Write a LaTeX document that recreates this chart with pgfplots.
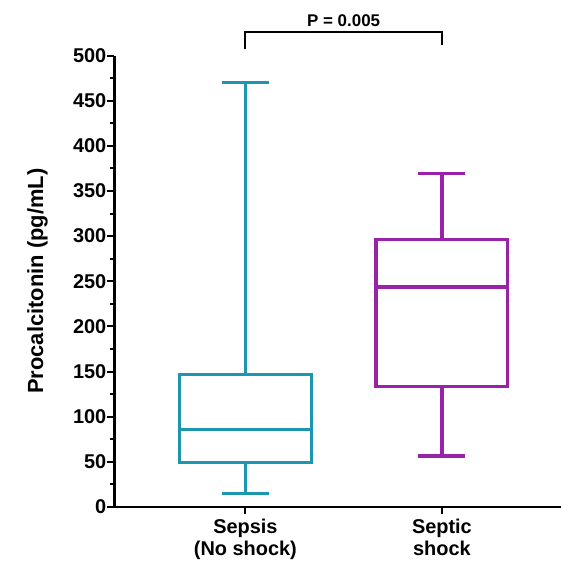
\documentclass[border=0pt]{standalone}
\usepackage{fontspec}
\setmainfont{Liberation Sans}
\usepackage{pgfplots}
\pgfplotsset{compat=1.18}
\definecolor{tealbox}{HTML}{1E96AF}
\definecolor{purplebox}{HTML}{9A22A8}
\begin{document}
\begin{tikzpicture}
\begin{axis}[
  scale only axis,
  width=446.5bp, height=451.5bp,
  xmin=0.334, xmax=2.606,
  ymin=0, ymax=500,
  axis x line=bottom, axis y line=left,
  axis line style={-, line width=2.6bp, black},
  clip=false,
  ytick={0,50,...,500},
  minor ytick={25,75,...,475},
  xtick={1,2},
  xticklabels={},
  tick style={line width=2bp, black},
  major tick length=7bp, minor tick length=4.5bp,
  tick align=outside,
  yticklabel style={font=\fontsize{20}{22}\selectfont\bfseries, inner sep=1bp},
  /pgf/number format/assume math mode=true,
  ylabel={Procalcitonin (pg/mL)},
  every axis y label/.style={at={(axis description cs:-0.1725,0.5)}, rotate=90, anchor=center, font=\fontsize{22}{24}\selectfont\bfseries},
]
% Sepsis (No shock): whiskers 15 / 470, box 49.5 - 146.5, median 86
\addplot[tealbox, line width=3.4bp, line join=miter] coordinates {(0.665,49.5) (1.335,49.5) (1.335,146.5) (0.665,146.5) (0.665,49.5) (1.335,49.5)};
\addplot[tealbox, line width=3.4bp] coordinates {(0.665,86) (1.335,86)};
\addplot[tealbox, line width=3.4bp] coordinates {(1,146.5) (1,470)};
\addplot[tealbox, line width=3.4bp] coordinates {(0.88,470) (1.12,470)};
\addplot[tealbox, line width=3.4bp] coordinates {(1,49.5) (1,15)};
\addplot[tealbox, line width=3.4bp] coordinates {(0.88,15) (1.12,15)};
% Septic shock: whiskers 56.5 / 369.5, box 133.5 - 296.5, median 243.5
\addplot[purplebox, line width=3.4bp, line join=miter] coordinates {(1.665,133.5) (2.335,133.5) (2.335,296.5) (1.665,296.5) (1.665,133.5) (2.335,133.5)};
\addplot[purplebox, line width=3.4bp] coordinates {(1.665,243.5) (2.335,243.5)};
\addplot[purplebox, line width=3.4bp] coordinates {(2,296.5) (2,369.5)};
\addplot[purplebox, line width=3.4bp] coordinates {(1.88,369.5) (2.12,369.5)};
\addplot[purplebox, line width=3.4bp] coordinates {(2,133.5) (2,56.5)};
\addplot[purplebox, line width=3.4bp] coordinates {(1.88,56.5) (2.12,56.5)};
% significance bracket
\addplot[black, line width=2bp] coordinates {(1,506.7) (1,525.8) (1.998,525.8) (1.998,511.9)};
\node[font=\fontsize{17}{19}\selectfont\bfseries, anchor=base] at (axis cs:1.5,532.5) {P = 0.005};
\node[font=\fontsize{20}{21.5}\selectfont\bfseries, align=center, anchor=north, inner sep=0pt] at (axis cs:1,-13.5) {Sepsis\\(No shock)};
\node[font=\fontsize{20}{21.5}\selectfont\bfseries, align=center, anchor=north, inner sep=0pt] at (axis cs:2,-13.5) {Septic\\shock};
\end{axis}
\pgfresetboundingbox
\path (current axis.south west) ++(-114.5bp,-62bp) rectangle ++(561bp,569bp);
\end{tikzpicture}
\end{document}
